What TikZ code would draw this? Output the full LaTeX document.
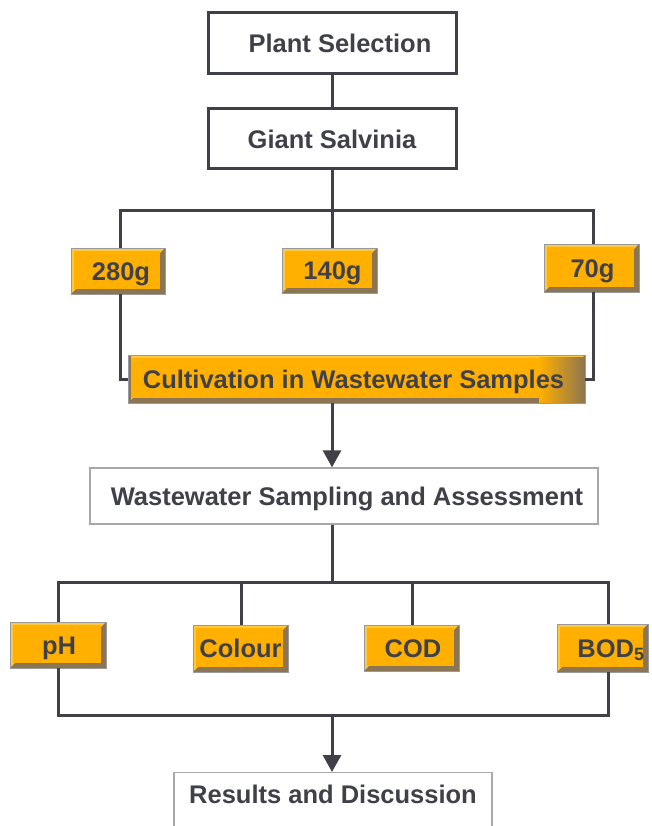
\documentclass[tikz,border=0pt]{standalone}
\usepackage{fontspec}
\setmainfont{Liberation Sans}
\usetikzlibrary{arrows.meta}
\definecolor{ink}{HTML}{404148}
\definecolor{org}{HTML}{FFB000}
\definecolor{orghi}{HTML}{FFC840}
\definecolor{bev}{HTML}{8C7552}
\definecolor{lgray}{HTML}{A8A8A8}
\definecolor{obord}{HTML}{9A9A9A}
\newcommand\bevfill{%
  \coordinate (pSW) at (path picture bounding box.south west);
  \coordinate (pNE) at (path picture bounding box.north east);
  \fill[orghi] (pSW) rectangle (pNE);
  \fill[bev] (pNE) -- (pSW -| pNE) -- (pSW) -- ([shift={(5pt,5pt)}]pSW)
     -- ([shift={(-5pt,5pt)}]pSW -| pNE) -- ([shift={(-5pt,-5pt)}]pNE) -- cycle;
  \fill[org] ([shift={(2.5pt,-2.5pt)}]pSW |- pNE) rectangle ([shift={(-5pt,5pt)}]pSW -| pNE);
}
\newcommand\cultfill{%
  \shade[left color=org, right color=bev] ([shift={(-46pt,-2pt)}]pNE) rectangle (pSW -| pNE);
  \fill[bev] (pSW) rectangle ([xshift=3pt]pSW |- pNE);
}
\tikzset{
  every node/.style={font=\fontsize{25.5}{30}\selectfont\bfseries, text=ink,
    inner sep=0pt, text height=18.3pt, text depth=0pt},
  dbox/.style={draw=ink, line width=3pt, fill=white},
  lbox/.style={draw=lgray, line width=1.3pt, fill=white},
  obox/.style={draw=obord, line width=0.8pt, path picture={\bevfill}},
  cbox/.style={draw=obord, line width=0.8pt, path picture={\bevfill\cultfill}},
  conn/.style={draw=ink, line width=3pt},
  arr/.style={conn, -{Triangle[width=18pt,length=17pt]}},
}
\begin{document}
\begin{tikzpicture}[x=1pt,y=-1pt]
\useasboundingbox[fill=white] (0,0) rectangle (651,826);
% top boxes
\node[dbox, minimum width=248pt, minimum height=61pt] (ps) at (332,43.5) {\hspace*{16pt}Plant Selection};
\node[dbox, minimum width=248pt, minimum height=60pt] (gs) at (332,139) {Giant Salvinia};
\coordinate (b1L) at (120,211);
\coordinate (b1R) at (593,211);
\node[obox, minimum width=94pt, minimum height=46pt] (g280) at (118,271) {\hspace*{6pt}280g};
\node[obox, minimum width=95pt, minimum height=45pt] (g140) at (329.5,270.5) {\hspace*{6pt}140g};
\node[obox, minimum width=95pt, minimum height=48pt] (g70) at (591.5,268) {\hspace*{2pt}70g};
\node[cbox, minimum width=457pt, minimum height=48pt] (cult) at (356.5,379) {Cultivation in Wastewater Samples\hspace*{6pt}};
\node[lbox, minimum width=508pt, minimum height=56pt] (ww) at (344,496) {\hspace*{6pt}Wastewater Sampling and Assessment};
\coordinate (b2L) at (58,582);
\coordinate (b2R) at (608,582);
\coordinate (c2) at (241,582);
\coordinate (c3) at (412,582);
\node[obox, minimum width=96pt, minimum height=46pt] (ph) at (58,645) {\hspace*{2pt}pH};
\node[obox, minimum width=95pt, minimum height=47pt] (col) at (240.5,648.5) {Colour};
\node[obox, minimum width=95pt, minimum height=46pt] (cod) at (411.5,648) {\hspace*{3pt}COD};
\node[obox, minimum width=91pt, minimum height=48pt] (bod) at (602.5,648) {\hspace*{17pt}BOD\textsubscript{5}};
\coordinate (b3L) at (58,715);
\coordinate (b3R) at (608,715);
\begin{scope}
\clip (0,0) rectangle (651,826);
\node[lbox, anchor=north, minimum width=318pt, text height=31pt, text depth=40pt] (res) at (333,772) {Results and Discussion};
\end{scope}
% connectors
\draw[conn] (ps) -- (gs);
\draw[conn] (gs) -- (gs |- b1L);
\draw[conn] (b1L |- g280.north) -- (b1L) -- (b1R) -- (b1R |- g70.north);
\draw[conn] (gs |- b1L) -- (gs |- g140.north);
\draw[conn] (b1L |- g280.south) |- (cult.west);
\draw[conn] (b1R |- g70.south) |- (cult.east);
\draw[arr] (gs |- cult.south) -- (gs |- ww.north);
\draw[conn] (gs |- ww.south) -- (gs |- b2L);
\draw[conn] (ph.north) -- (b2L) -- (b2R) -- (b2R |- bod.north);
\draw[conn] (c2) -- (c2 |- col.north);
\draw[conn] (c3) -- (c3 |- cod.north);
\draw[conn] (ph.south) -- (b3L) -- (b3R) -- (b2R |- bod.south);
\draw[arr] (gs |- b3L) -- (gs |- res.north);
\end{tikzpicture}
\end{document}
